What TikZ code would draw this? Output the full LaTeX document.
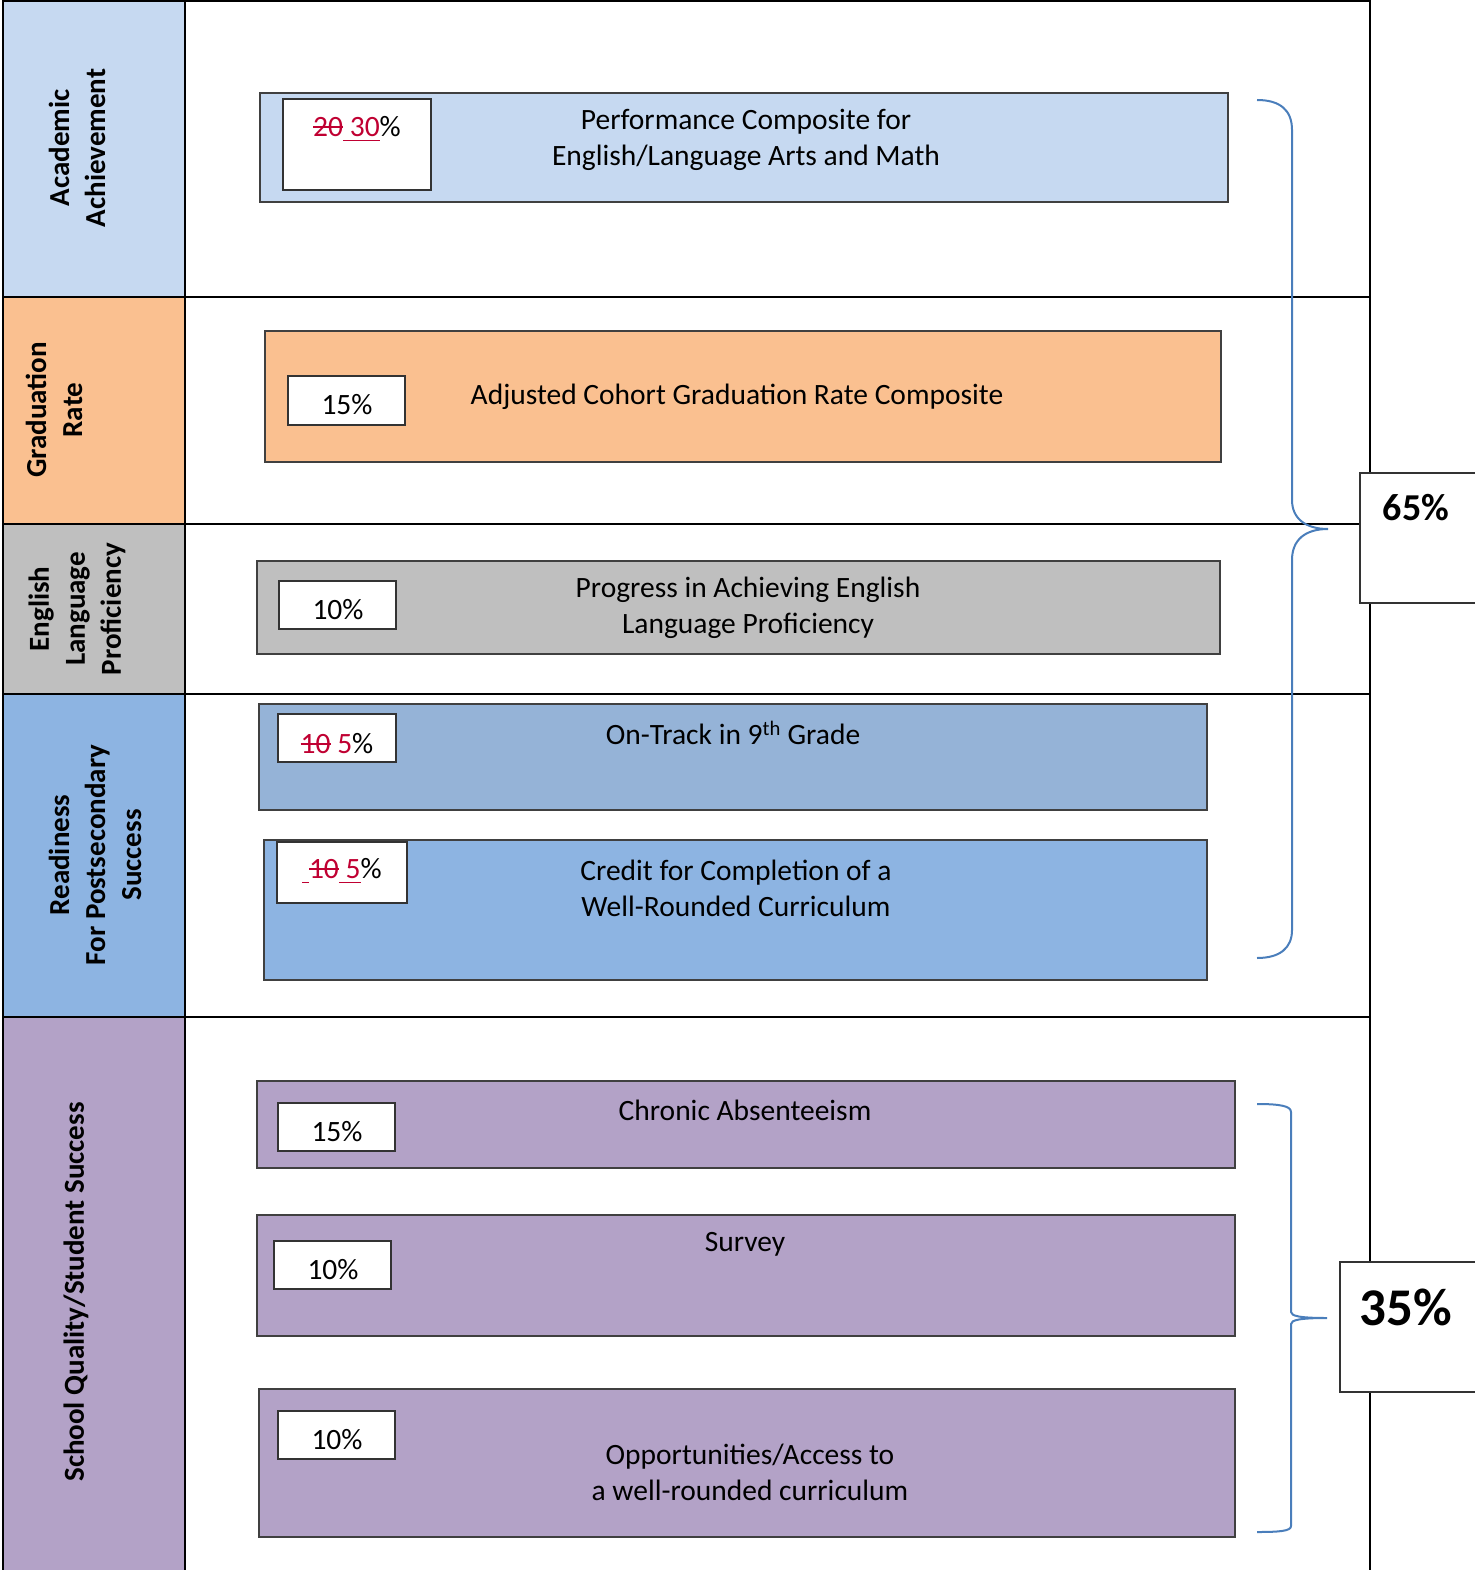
\documentclass[tikz,border=0pt]{standalone}
\usepackage{fontspec}
\setmainfont{Carlito}
\usetikzlibrary{positioning}

\definecolor{acad}{RGB}{198,217,241}
\definecolor{grad}{RGB}{250,192,144}
\definecolor{elp}{RGB}{191,191,191}
\definecolor{ready}{RGB}{141,180,226}
\definecolor{track}{RGB}{149,179,215}
\definecolor{sqss}{RGB}{179,162,199}
\definecolor{braceblue}{RGB}{74,126,187}
\definecolor{edit}{RGB}{192,0,50}

\newcommand{\struck}[1]{{\color{edit}\setbox0\hbox{#1}\rlap{\rule[0.3em]{\wd0}{0.06em}}\box0}}
\newcommand{\added}[1]{{\color{edit}\setbox0\hbox{#1}\rlap{\rule[-0.16em]{\wd0}{0.06em}}\box0}}

\begin{document}
\begin{tikzpicture}[
  x=1pt, y=-1pt,
  font=\fontsize{29.5}{36}\selectfont,
  every node/.style={inner sep=0, outer sep=0},
  grid/.style={draw=black, line width=2pt},
  cell/.style={grid, anchor=north west, minimum width=182},
  bar/.style={draw=black!75, line width=1.3pt, anchor=north west},
  pct/.style={draw=black!80, fill=white, line width=1.3pt, anchor=north west},
  txt/.style={align=center},
  head/.style={rotate=90, align=center, font=\fontsize{29}{36}\selectfont\bfseries},
  brace/.style={draw=braceblue, line width=2pt},
  total/.style={draw=black!80, fill=white, line width=1.3pt, anchor=north west, minimum height=130}
  ]

  \useasboundingbox (0,0) rectangle (1474,1570);

  \node [cell, fill=acad, minimum height=296] (acadcell) at (3,1) {};
  \node [cell, fill=grad, minimum height=227] (gradcell) at (3,297) {};
  \node [cell, fill=elp, minimum height=170] (elpcell) at (3,524) {};
  \node [cell, fill=ready, minimum height=323] (readycell) at (3,694) {};
  \node [cell, fill=sqss, minimum height=560] (sqsscell) at (3,1017) {};

  \node [head] (acadhead) at (77,148) {Academic\\Achievement};
  \node [head] (gradhead) at (54,410) {Graduation\\Rate};
  \node [head] (elphead) at (77,609) {English\\Language\\Proficiency};
  \node [head] (readyhead) at (95,855) {Readiness\\For Postsecondary\\Success};
  \node [head] (sqsshead) at (76,1292) {School Quality/Student Success};

  \draw [grid] (185,1) -- (1370,1) -- (1370,1575);
  \draw [grid] (185,297) -- (1370,297) (185,524) -- (1370,524) (185,694) -- (1370,694) (185,1017) -- (1370,1017);

  \node [bar, fill=acad, minimum width=968, minimum height=109] (perf) at (260,93) {};
  \node [pct, minimum width=148, minimum height=91] (perfpct) at (283,99) {};
  \node (perfval) at (357,129) {\struck{20}\added{\ 30}\%};
  \node [txt] (perftxt) at (746,140) {Performance Composite for\\English/Language Arts and Math};

  \node [bar, fill=grad, minimum width=956, minimum height=131] (cohort) at (265,331) {};
  \node [pct, minimum width=117, minimum height=49] (cohortpct) at (288,376) {};
  \node (cohortval) at (347,405) {15\%};
  \node (cohorttxt) at (737,397) {Adjusted Cohort Graduation Rate Composite};

  \node [bar, fill=elp, minimum width=963, minimum height=93] (progress) at (257,561) {};
  \node [pct, minimum width=117, minimum height=48] (progresspct) at (279,581) {};
  \node (progressval) at (338,610) {10\%};
  \node [txt] (progresstxt) at (748,608) {Progress in Achieving English\\Language Proficiency};

  \node [bar, fill=track, minimum width=948, minimum height=106] (ontrack) at (259,704) {};
  \node [pct, minimum width=118, minimum height=48] (ontrackpct) at (278,714) {};
  \node (ontrackval) at (337,744) {\struck{10} \textcolor{edit}{5}\%};
  \node (ontracktxt) at (733,733) {On-Track in 9\textsuperscript{th} Grade};

  \node [bar, fill=ready, minimum width=943, minimum height=140] (credit) at (264,840) {};
  \node [pct, minimum width=130, minimum height=61] (creditpct) at (277,842) {};
  \node (creditval) at (342,871) {\added{\ }\struck{10}\added{\ 5}\%};
  \node [txt] (credittxt) at (736,888) {Credit for Completion of a\\Well-Rounded Curriculum};

  \node [bar, fill=sqss, minimum width=978, minimum height=87] (chronic) at (257,1081) {};
  \node [pct, minimum width=117, minimum height=48] (chronicpct) at (278,1103) {};
  \node (chronicval) at (337,1132) {15\%};
  \node (chronictxt) at (745,1110) {Chronic Absenteeism};

  \node [bar, fill=sqss, minimum width=978, minimum height=121] (survey) at (257,1215) {};
  \node [pct, minimum width=117, minimum height=48] (surveypct) at (274,1241) {};
  \node (surveyval) at (333,1270) {10\%};
  \node (surveytxt) at (745,1244) {Survey};

  \node [bar, fill=sqss, minimum width=976, minimum height=148] (access) at (259,1389) {};
  \node [pct, minimum width=117, minimum height=48] (accesspct) at (278,1411) {};
  \node (accessval) at (337,1440) {10\%};
  \node [txt] (accesstxt) at (750,1472) {Opportunities/Access to\\a well-rounded curriculum};

  \node [total, minimum width=120] (sixtyfive) at (1360,473) {};
  \node [font=\fontsize{38}{40}\selectfont\bfseries] (sixtyfivetxt) at (1416,508) {65\%};
  \node [total, minimum width=140] (thirtyfive) at (1340,1262) {};
  \node [font=\fontsize{53}{56}\selectfont\bfseries] (thirtyfivetxt) at (1406,1307) {35\%};

  \coordinate (upperbracetop) at (1257,100);
  \coordinate (upperbracetip) at (1328,529);
  \coordinate (upperbracebot) at (1257,958);
  \draw [brace] (upperbracetop) .. controls (1280,100) and (1292,110) .. (1292,130) -- (1292,500)
    .. controls (1292,518) and (1305,529) .. (upperbracetip)
    .. controls (1305,529) and (1292,540) .. (1292,560) -- (1292,930)
    .. controls (1292,948) and (1280,958) .. (upperbracebot);

  \coordinate (lowerbracetop) at (1257,1104);
  \coordinate (lowerbracetip) at (1327,1318);
  \coordinate (lowerbracebot) at (1257,1532);
  \draw [brace] (lowerbracetop) .. controls (1280,1104) and (1291,1106) .. (1291,1112) -- (1291,1312)
    .. controls (1291,1316) and (1300,1318) .. (lowerbracetip)
    .. controls (1300,1318) and (1291,1320) .. (1291,1324) -- (1291,1526)
    .. controls (1291,1531) and (1280,1532) .. (lowerbracebot);

\end{tikzpicture}
\end{document}
